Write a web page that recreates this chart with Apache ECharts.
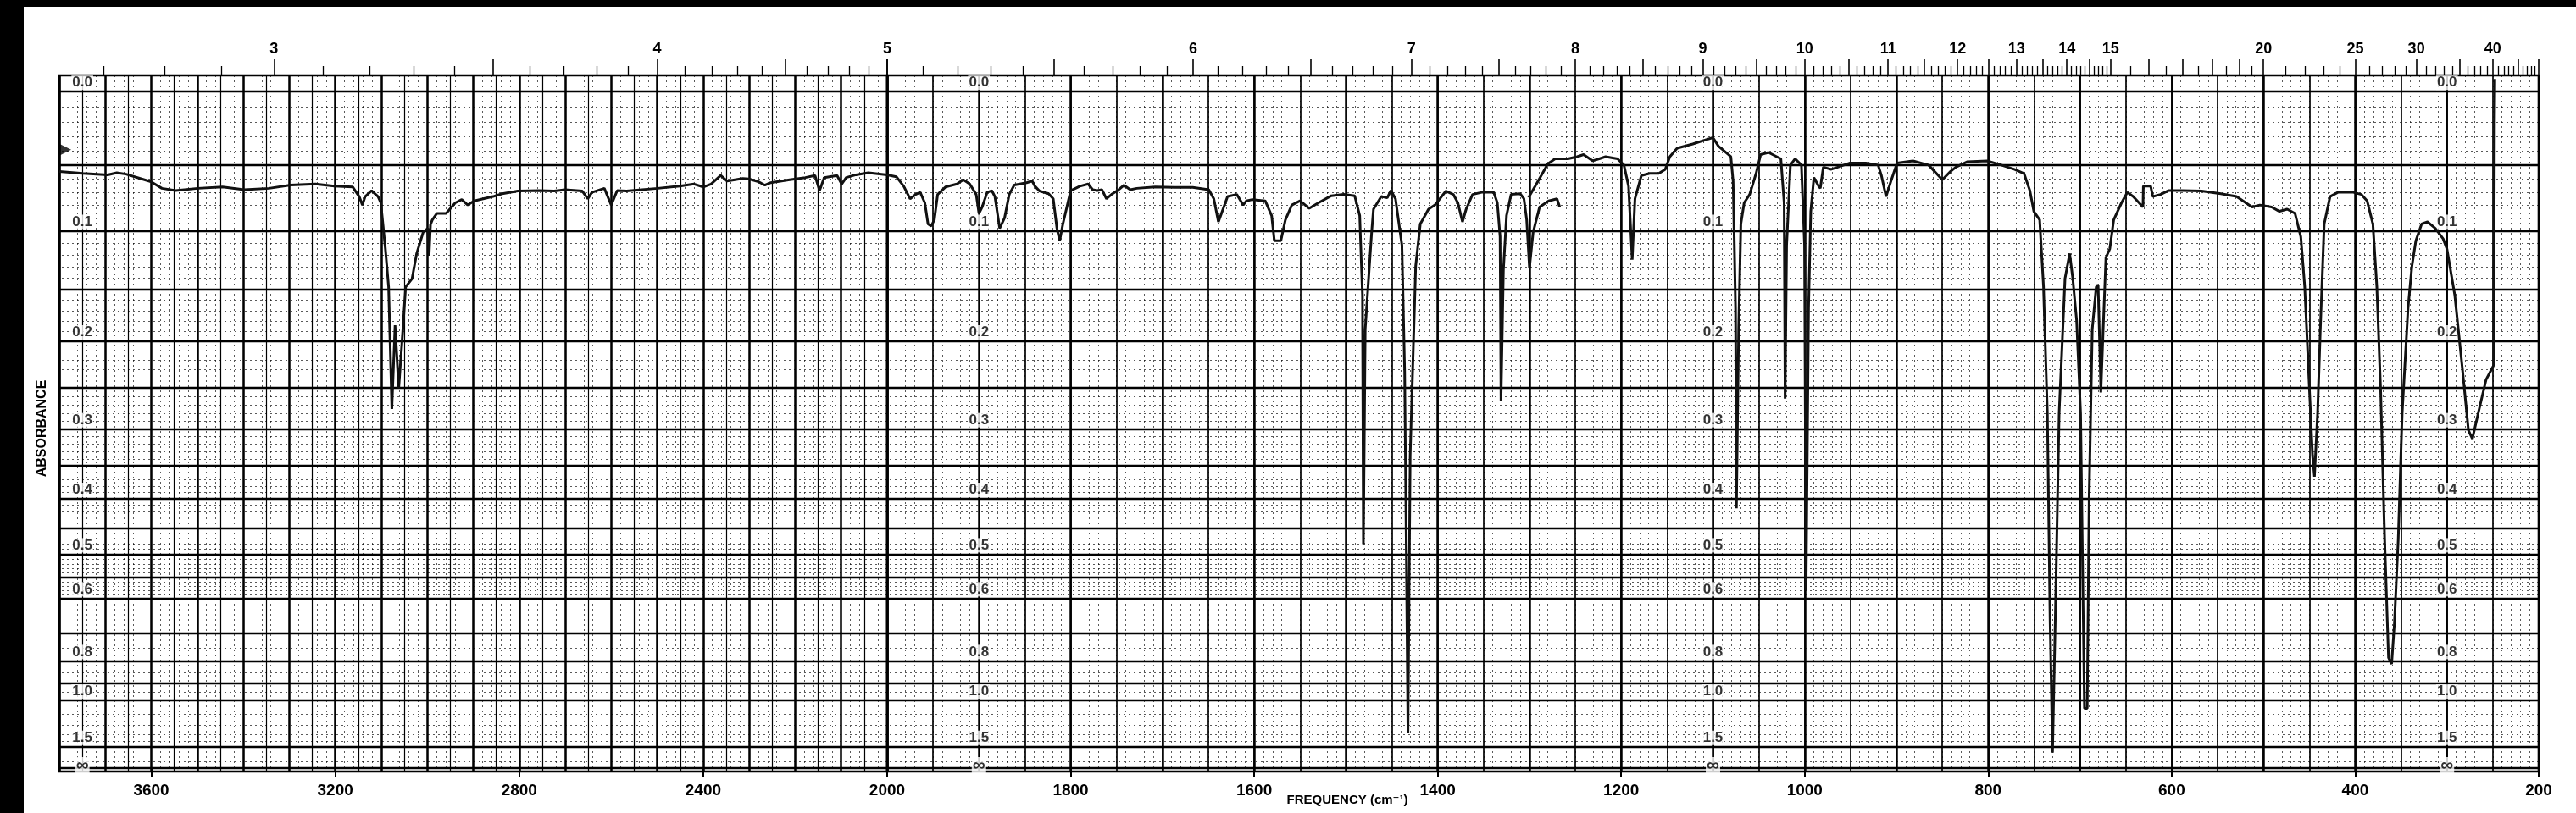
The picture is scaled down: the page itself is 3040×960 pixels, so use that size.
<!DOCTYPE html>
<html>
<head>
<meta charset="utf-8">
<script src="https://cdn.jsdelivr.net/npm/echarts@6/dist/echarts.min.js"></script>
<style>
  html, body { margin: 0; padding: 0; background: #000; }
  #chart { position: absolute; left: 28px; top: 8px; width: 3012px; height: 952px; background: #fff; }
</style>
</head>
<body>
<div id="chart"></div>
<script>
// spectrum: wavenumber (cm-1) and absorbance
// 3800 -> 2000 cm-1 (compressed part of the paper)
const wnHigh = [3800, 3749, 3695, 3675, 3655, 3621, 3601, 3577, 3547, 3499, 3445, 3398, 3344, 3297, 3243, 3202,
  3162, 3148, 3141, 3135, 3121, 3107, 3101, 3091, 3084, 3077, 3070, 3062, 3053, 3047, 3033, 3023, 3009, 2999,
  2996, 2993, 2989, 2979, 2959, 2939, 2925, 2912, 2898, 2857, 2837, 2803, 2757, 2724, 2700, 2663, 2651, 2642,
  2615, 2600, 2587, 2567, 2499, 2451, 2420, 2400, 2383, 2362, 2348, 2314, 2301, 2280, 2266, 2253, 2212, 2178,
  2157, 2147, 2137, 2109, 2099, 2089, 2068, 2041, 2000];
const absHigh = [0.0545, 0.056, 0.057, 0.0555, 0.0565, 0.060, 0.062, 0.067, 0.0687, 0.067, 0.066, 0.068, 0.067, 0.0645, 0.0638, 0.0654,
  0.066, 0.0732, 0.0797, 0.0732, 0.0687, 0.0732, 0.078, 0.115, 0.148, 0.275, 0.184, 0.2505, 0.188, 0.148, 0.1406, 0.1188, 0.1013, 0.098,
  0.1206, 0.095, 0.0913, 0.0862, 0.0862, 0.078, 0.0755, 0.0797, 0.0765, 0.0732, 0.0711, 0.069, 0.0687, 0.069, 0.068, 0.069, 0.0749, 0.070,
  0.067, 0.0797, 0.0687, 0.069, 0.067, 0.0654, 0.0638, 0.066, 0.0638, 0.0575, 0.0616, 0.0597, 0.060, 0.062, 0.0647, 0.0628, 0.0606, 0.059,
  0.0575, 0.0687, 0.059, 0.0575, 0.0638, 0.059, 0.057, 0.0555, 0.057];

// 2000 -> 1267 cm-1, first pen pass
const wnLow1 = [2000, 1990, 1982, 1975, 1969, 1964, 1959, 1955.5, 1952, 1948.6, 1945, 1936.5, 1924, 1917, 1910, 1903,
  1900, 1896.5, 1891, 1886, 1882.6, 1877.4, 1872, 1867, 1861.5, 1848, 1842, 1839, 1834, 1824, 1819, 1815, 1812,
  1808.5, 1800, 1790, 1781, 1776, 1771, 1766, 1761, 1755.5, 1749, 1742, 1735, 1728, 1708, 1687, 1667, 1649.5,
  1644, 1639, 1634, 1629, 1619, 1612, 1608.5, 1602, 1588, 1581, 1578, 1571, 1566, 1559, 1550, 1540, 1530, 1516,
  1502.5, 1490.5, 1485, 1482, 1481, 1479, 1472, 1470, 1461.5, 1455, 1451, 1446, 1439, 1436, 1432.4, 1430, 1424,
  1419, 1410, 1403, 1391, 1383, 1378, 1373, 1369, 1362, 1352, 1339, 1335, 1332, 1331, 1328.4, 1325, 1320, 1310,
  1306, 1303, 1300, 1296, 1289, 1279, 1270, 1267];
const absLow1 = [0.057, 0.0584, 0.0654, 0.0749, 0.0716, 0.070, 0.078, 0.0946, 0.0962, 0.0913, 0.0716, 0.066, 0.0638, 0.0606, 0.0638, 0.0716,
  0.0862, 0.0813, 0.070, 0.0687, 0.0732, 0.098, 0.0896, 0.0716, 0.0645, 0.0628, 0.0616, 0.0654, 0.069, 0.0711, 0.0749, 0.098, 0.1082,
  0.0946, 0.0687, 0.0654, 0.0638, 0.068, 0.0687, 0.068, 0.0749, 0.0716, 0.0687, 0.0647, 0.068, 0.067, 0.066, 0.0663, 0.0663, 0.068,
  0.0749, 0.0929, 0.0829, 0.0732, 0.0716, 0.0797, 0.0765, 0.0755, 0.0765, 0.0879, 0.1082, 0.1082, 0.0913, 0.0797, 0.0765, 0.0823, 0.078, 0.0726,
  0.0716, 0.0726, 0.0879, 0.1558, 0.48, 0.188, 0.1013, 0.0829, 0.0732, 0.0742, 0.0687, 0.0749, 0.1117, 0.2317, 1.29, 0.3354, 0.1296,
  0.0946, 0.0829, 0.0797, 0.069, 0.0716, 0.078, 0.0929, 0.0829, 0.0716, 0.070, 0.070, 0.078, 0.1048, 0.2654, 0.1332, 0.0879, 0.0716, 0.0711,
  0.0749, 0.0913, 0.1314, 0.1013, 0.0813, 0.0765, 0.0749, 0.0813];

// 1301 -> 248 cm-1, second pen pass
const wnLow2 = [1301, 1294, 1287, 1280, 1272, 1258, 1248, 1241, 1231, 1224, 1217, 1204, 1197, 1192, 1188, 1185, 1178,
  1169, 1159, 1152, 1147, 1139, 1122, 1108, 1100, 1094, 1080.5, 1078, 1075.4, 1074.4, 1072, 1069.6, 1066, 1060, 1053,
  1048, 1039.5, 1026, 1022.4, 1021.4, 1019.7, 1015.6, 1010.4, 1003.6, 1000.2, 998.5, 995.8, 993.4, 990, 984.8, 983,
  979.7, 971, 964, 950.6, 933.5, 920, 916.4, 911.3, 906.2, 899.3, 882, 865, 850, 841, 835.3, 822.6, 801.3, 788.6,
  771.6, 761, 754.6, 750.3, 743.9, 739.7, 735.5, 732.5, 729.9, 727, 722.7, 716.3, 711.2, 707.8, 703.6, 699.3, 695.1,
  692.1, 690, 686.6, 682.3, 680.2, 677.2, 674.7, 671.7, 667.5, 663.2, 659, 654.7, 648.3, 642, 635.6, 631.3, 630.9,
  622.9, 620.7, 612.2, 603.7, 588.9, 567.6, 546.4, 529.4, 512.4, 503.9, 491.1, 482.6, 474.1, 465.6, 459.3, 455,
  450.8, 446.5, 444.4, 441, 438, 433.8, 427.4, 418.9, 401.9, 393.4, 387, 380.7, 376.4, 372.2, 367.9, 363.7, 360.3,
  357.3, 353.1, 348.8, 342.4, 338.2, 333.9, 327.6, 321.2, 312.7, 304.2, 300, 291.4, 282.9, 276.6, 272.3, 266, 257.4,
  251.1, 249, 248.6, 248.2, 247.8];
const absLow2 = [0.074, 0.0656, 0.0573, 0.049, 0.0454, 0.0454, 0.0439, 0.0424, 0.0469, 0.0454, 0.0439, 0.0454, 0.0499, 0.0654, 0.1241, 0.0749, 0.0575,
  0.056, 0.056, 0.053, 0.0439, 0.0379, 0.035, 0.0321, 0.0306, 0.0365, 0.0439, 0.062, 0.1676, 0.4156, 0.188, 0.0946, 0.078, 0.0716, 0.056,
  0.0424, 0.0409, 0.0454, 0.078, 0.2628, 0.1117, 0.0499, 0.0454, 0.0499, 0.1117, 0.5805, 0.1676, 0.0846, 0.059, 0.0654, 0.067,
  0.0514, 0.053, 0.0514, 0.0484, 0.0484, 0.0499, 0.0575, 0.0732, 0.062, 0.0484, 0.0469, 0.0499, 0.0606, 0.0545, 0.0514, 0.0475, 0.0469, 0.0493,
  0.053, 0.056, 0.0687, 0.0846, 0.0913, 0.148, 0.2805, 0.6718, 1.638, 0.672, 0.2805, 0.1406, 0.1188, 0.1406, 0.1798, 0.2805, 1.054,
  1.054, 0.398, 0.188, 0.148, 0.146, 0.2554, 0.188, 0.1223, 0.115, 0.0913, 0.0846, 0.078, 0.070, 0.0732, 0.078, 0.0813, 0.0654,
  0.0654, 0.0732, 0.0716, 0.0687, 0.0687, 0.069, 0.0711, 0.0732, 0.0813, 0.0797, 0.0813, 0.0846, 0.0829, 0.0862, 0.1048, 0.148,
  0.2317, 0.3354, 0.3657, 0.2805, 0.188, 0.0946, 0.0732, 0.070, 0.070, 0.0716, 0.0765, 0.0946, 0.148, 0.2554, 0.4717, 0.7875, 0.813,
  0.672, 0.4717, 0.2805, 0.1676, 0.1296, 0.1082, 0.0946, 0.0929, 0.098, 0.1065, 0.115, 0.1558, 0.2317, 0.3015, 0.3126, 0.2805, 0.241,
  0.229, 0.225, 0.11, 0.02, -0.008];

// pen start mark at the left edge
const penMark = [[3788, 0.039]];

// absorbance scale printed on the paper
const absTickLabels = ['0.0', '0.1', '0.2', '0.3', '0.4', '0.5', '0.6', '0.8', '1.0', '1.5', '∞'];
const absTickValues = [0, 0.1, 0.2, 0.3, 0.4, 0.5, 0.6, 0.8, 1.0, 1.5, Infinity];
const absHeavyLines = [0, 0.05, 0.1, 0.15, 0.2, 0.25, 0.3, 0.35, 0.4, 0.45, 0.5, 0.55, 0.6, 0.7, 0.8, 0.9, 1.0, 1.5, Infinity];
const labelColsHigh = [3750];
const labelColsLow = [1900, 1100, 300];

// frequency labels (bottom) and wavelength labels in microns (top)
const freqLabelsHigh = [3600, 3200, 2800, 2400, 2000];
const freqLabelsLow = [1800, 1600, 1400, 1200, 1000, 800, 600, 400, 200];
const micronLabelsHigh = [3, 4, 5];
const micronLabelsLow = [6, 7, 8, 9, 10, 11, 12, 13, 14, 15, 20, 25, 30, 40];

const FONT = '"Liberation Sans", Arial, "DejaVu Sans", sans-serif';
const toT = a => a === Infinity ? 0 : 100 * Math.pow(10, -a);
const toWn = um => 10000 / um;
const pairs = (wn, ab) => wn.map((w, i) => [w, toT(ab[i])]);

// wavelength tick marks along the top
const longUm = [], shortUm = [];
for (let k = 26; k <= 150; k++) (k % 5 === 0 ? longUm : shortUm).push(k / 10);
for (let k = 31; k <= 40; k++) (k % 2 === 0 ? longUm : shortUm).push(k / 2);
for (let k = 21; k <= 50; k++) (k % 5 === 0 ? longUm : shortUm).push(k);
const inRange = (lo, hi) => v => v >= lo - 0.01 && v <= hi + 0.01;

// minor horizontal dotted lines (absorbance)
const absMinor = [];
for (let k = 1; k < 60; k++) if (k % 5) absMinor.push(k / 100);
[0.65, 0.75, 0.85, 0.95, 1.1, 1.2, 1.3, 1.4, 2.0].forEach(v => absMinor.push(v));

const chart = echarts.init(document.getElementById('chart'));

const gridsDef = [
  {min: 2000, max: 3800, minorStep: 20, midW: 1.2, freq: freqLabelsHigh, microns: micronLabelsHigh, cols: labelColsHigh},
  {min: 200, max: 2000, minorStep: 10, midW: 1.7, freq: freqLabelsLow, microns: micronLabelsLow, cols: labelColsLow}
];

const xAxes = [];
const series = [];
const mainIdx = [];

gridsDef.forEach((g, gi) => {
  const base = {gridIndex: gi, type: 'value', min: g.min, max: g.max, inverse: true};
  const hidden = {axisLine: {show: false}, axisTick: {show: false}, axisLabel: {show: false}};
  mainIdx.push(xAxes.length);
  // bottom frequency axis
  xAxes.push(Object.assign({}, base, {
    position: 'bottom',
    axisLine: {show: false},
    axisTick: {show: true, length: 10, customValues: g.freq, lineStyle: {color: '#000', width: 2}},
    axisLabel: {
      customValues: gi === 0 ? g.freq : g.freq.filter(v => v !== 2000),
      formatter: v => String(v),
      color: '#000', fontFamily: FONT, fontWeight: 'bold', fontSize: 19, margin: 13
    },
    splitLine: {show: false}
  }));
  // paper grid, vertical lines
  xAxes.push(Object.assign({}, base, hidden, {position: 'bottom', interval: g.minorStep,
    splitLine: {show: true, lineStyle: {color: '#000', width: 1, type: [2, 4], opacity: 0.65}}}));
  xAxes.push(Object.assign({}, base, hidden, {position: 'bottom', interval: 50,
    splitLine: {show: true, lineStyle: {color: '#000', width: g.midW}}}));
  xAxes.push(Object.assign({}, base, hidden, {position: 'bottom', interval: 100,
    splitLine: {show: true, lineStyle: {color: '#000', width: 2.5}}}));
  // top wavelength axis: long ticks with labels, short ticks
  xAxes.push(Object.assign({}, base, {
    position: 'top',
    axisLine: {show: false}, splitLine: {show: false},
    axisTick: {show: true, length: 19, customValues: longUm.map(toWn).filter(inRange(g.min, g.max)),
      lineStyle: {color: '#000', width: 1.6}},
    axisLabel: {
      customValues: g.microns.map(toWn),
      formatter: v => String(Math.round(10000 / v)),
      color: '#000', fontFamily: FONT, fontWeight: 'bold', fontSize: 18, margin: 22
    }
  }));
  xAxes.push(Object.assign({}, base, {
    position: 'top',
    axisLine: {show: false}, splitLine: {show: false}, axisLabel: {show: false},
    axisTick: {show: true, length: 11, customValues: shortUm.map(toWn).filter(inRange(g.min, g.max)),
      lineStyle: {color: '#000', width: 1.3}}
  }));

  // paper grid, horizontal lines
  series.push({
    type: 'line', xAxisIndex: mainIdx[gi], yAxisIndex: gi, data: [], silent: true, z: 1,
    markLine: {silent: true, symbol: 'none', z: 1, label: {show: false},
      lineStyle: {color: '#000', width: 1, type: [2, 4], opacity: 0.65},
      data: absMinor.map(a => ({yAxis: toT(a)}))}
  });
  series.push({
    type: 'line', xAxisIndex: mainIdx[gi], yAxisIndex: gi, data: [], silent: true, z: 1,
    markLine: {silent: true, symbol: 'none', z: 1, label: {show: false},
      lineStyle: {color: '#000', width: 2.3, type: 'solid'},
      data: absHeavyLines.map(a => ({yAxis: toT(a)}))}
  });

  // absorbance figures printed inside the paper
  const labelData = [];
  g.cols.forEach(c => absTickValues.forEach((a, i) => {
    labelData.push({
      value: [c, toT(a), absTickLabels[i]],
      label: a === Infinity ? {distance: -8, fontSize: 21} : {}
    });
  }));
  series.push({
    type: 'scatter', xAxisIndex: mainIdx[gi], yAxisIndex: gi, symbolSize: 0, silent: true, z: 5,
    data: labelData,
    label: {show: true, position: 'top', distance: 2, formatter: p => p.data.value[2],
      color: '#000', fontFamily: FONT, fontWeight: 'bold', fontSize: 17,
      backgroundColor: '#fff', padding: [0, 1]}
  });
});

const penStyle = {type: 'line', showSymbol: false, z: 10, silent: true,
  lineStyle: {color: '#111', width: 3}};
series.push(Object.assign({}, penStyle, {name: 'spectrum', xAxisIndex: mainIdx[0], yAxisIndex: 0, data: pairs(wnHigh, absHigh)}));
series.push(Object.assign({}, penStyle, {name: 'spectrum', xAxisIndex: mainIdx[1], yAxisIndex: 1, data: pairs(wnLow1, absLow1)}));
series.push(Object.assign({}, penStyle, {name: 'spectrum', xAxisIndex: mainIdx[1], yAxisIndex: 1, data: pairs(wnLow2, absLow2)}));
series.push({type: 'scatter', xAxisIndex: mainIdx[0], yAxisIndex: 0, z: 10, silent: true,
  symbol: 'triangle', symbolRotate: -90, symbolSize: 15, itemStyle: {color: '#000'},
  data: penMark.map(p => [p[0], toT(p[1])])});

const option = {
  animation: false,
  backgroundColor: '#fff',
  grid: [
    {left: 42, top: 81, width: 977, height: 822, show: true, borderColor: '#000', borderWidth: 2.6, backgroundColor: '#fff'},
    {left: 1019, top: 81, width: 1949, height: 822, show: true, borderColor: '#000', borderWidth: 2.6, backgroundColor: '#fff'}
  ],
  xAxis: xAxes,
  yAxis: [
    {gridIndex: 0, type: 'value', min: -0.5, max: 102.4, show: false},
    {gridIndex: 1, type: 'value', min: -0.5, max: 102.4, show: false}
  ],
  graphic: [
    {type: 'text', x: 22, y: 498, rotation: Math.PI / 2,
      style: {text: 'ABSORBANCE', align: 'center', verticalAlign: 'middle', fill: '#000',
        font: 'bold 16px ' + FONT}},
    {type: 'text', x: 1562, y: 937,
      style: {text: 'FREQUENCY (cm⁻¹)', align: 'center', verticalAlign: 'middle', fill: '#000',
        font: 'bold 15px ' + FONT}}
  ],
  series: series
};
chart.setOption(option);
</script>
</body>
</html>
